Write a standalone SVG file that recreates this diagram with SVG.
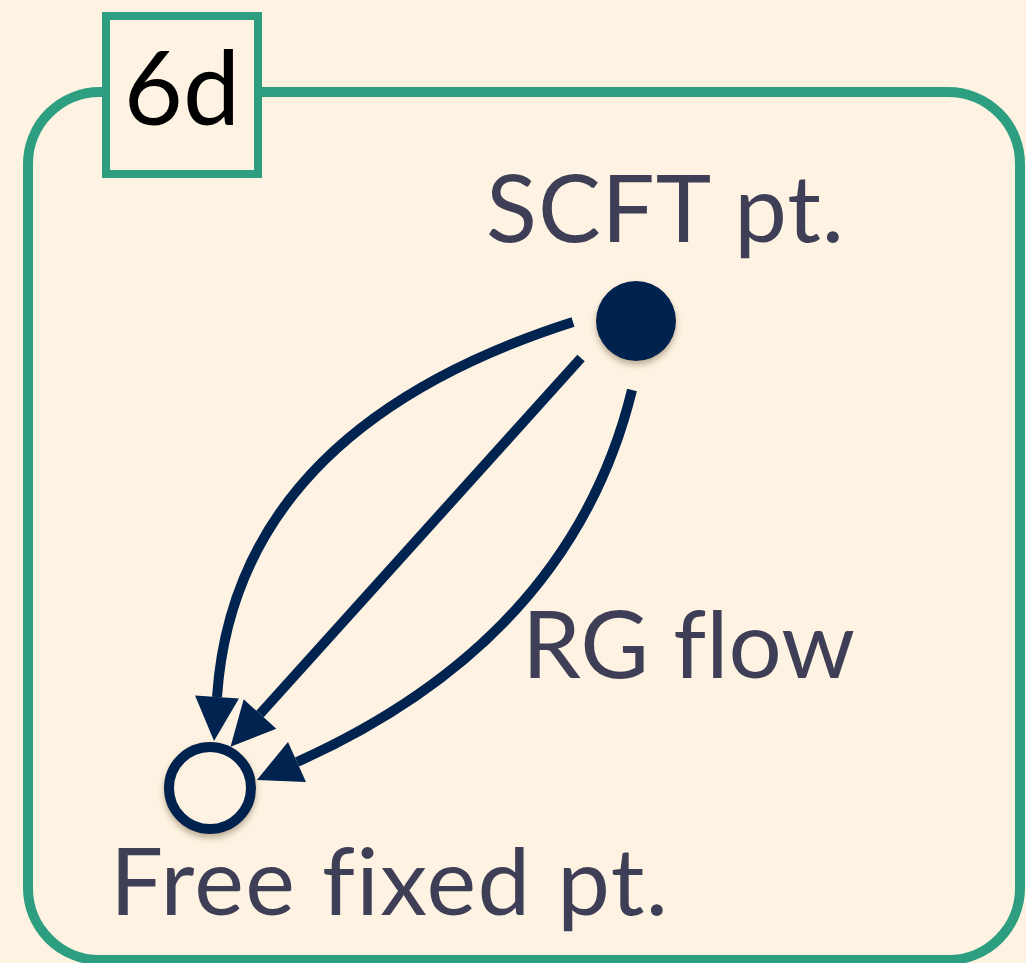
<svg xmlns="http://www.w3.org/2000/svg" width="1026" height="963" viewBox="0 0 1026 963">
  <style>
    .frame { fill: none; stroke: #2d9e7f; stroke-width: 10; }
    .tag { fill: #fef3e2; stroke: #2d9e7f; stroke-width: 8; }
    .flow { fill: none; stroke: #00234f; stroke-width: 10; }
    .label { font-family: Lato, "Noto Sans", "Liberation Sans", sans-serif; font-size: 94px; fill: #3e3f56; font-variant-ligatures: none; }
    .tagtext { font-family: Lato, "Noto Sans", "Liberation Sans", sans-serif; font-size: 102px; fill: #000; }
  </style>
  <defs>
    <marker id="head" markerUnits="userSpaceOnUse" markerWidth="50" markerHeight="50" refX="0" refY="0" viewBox="0 -25 50 50" orient="auto" overflow="visible">
      <path d="M0,-22 L44,0 L0,22 z" fill="#00234f"/>
    </marker>
    <filter id="shadow" x="-30%" y="-30%" width="160%" height="170%">
      <feDropShadow dx="0" dy="4" stdDeviation="3" flood-color="#6b5a3a" flood-opacity="0.45"/>
    </filter>
  </defs>

  <rect width="1026" height="963" fill="#fef3e2"/>

  <!-- outer frame -->
  <rect class="frame" x="28" y="92" width="992" height="868" rx="72" ry="72"/>

  <!-- dimension tag -->
  <g id="tag6d">
    <rect class="tag" x="106" y="16" width="152" height="158"/>
    <text class="tagtext" x="182" y="125" text-anchor="middle">6d</text>
  </g>

  <!-- connectors -->
  <g id="connectors">
    <path class="flow" d="M573,322 Q235,430 217,697" marker-end="url(#head)"/>
    <path class="flow" d="M581,358 L260,714" marker-end="url(#head)"/>
    <path class="flow" d="M632,390 Q571,639 297,762" marker-end="url(#head)"/>
  </g>

  <g id="scft">
    <circle cx="636" cy="321" r="40" fill="#00234f" filter="url(#shadow)"/>
    <text class="label" x="486" y="242" textLength="358" lengthAdjust="spacing">SCFT pt.</text>
  </g>

  <g id="free">
    <circle cx="210" cy="788" r="41" fill="#fef3e2" stroke="#00234f" stroke-width="10" filter="url(#shadow)"/>
    <text class="label" x="110" y="915" textLength="558" lengthAdjust="spacing">Free fixed pt.</text>
  </g>

  <g id="rgflow">
    <text class="label" x="522" y="678" textLength="333" lengthAdjust="spacing">RG flow</text>
  </g>
</svg>
